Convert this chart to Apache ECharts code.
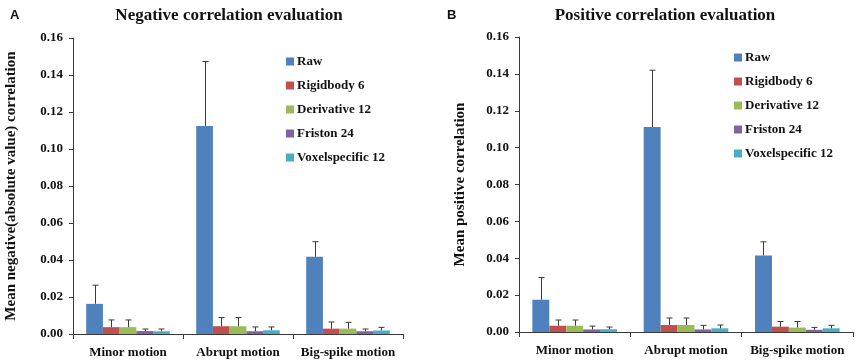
<!DOCTYPE html>
<html>
<head>
<meta charset="utf-8">
<script src="https://cdn.jsdelivr.net/npm/echarts@6/dist/echarts.min.js"></script>
<style>
  html, body { margin: 0; padding: 0; background: #fff; }
  #chart { width: 856px; height: 360px; }
</style>
</head>
<body>
<div id="chart"></div>
<script>
(function(){
  const categories = ['Minor motion', 'Abrupt motion', 'Big-spike motion'];
  const seriesNames = ['Raw', 'Rigidbody 6', 'Derivative 12', 'Friston 24', 'Voxelspecific 12'];
  const colors = ['#4F81BD', '#C0504D', '#9BBB59', '#8064A2', '#4BACC6'];
  const yTicks = [0, 0.02, 0.04, 0.06, 0.08, 0.10, 0.12, 0.14, 0.16];

  // panel A: negative correlation, mean and error (upper bar length)
  const negMean = [
    [0.0163, 0.1125, 0.0418],
    [0.0037, 0.0042, 0.0029],
    [0.0037, 0.0042, 0.0029],
    [0.0016, 0.0015, 0.0015],
    [0.0015, 0.0020, 0.0019]
  ];
  const negErr = [
    [0.0101, 0.0348, 0.0081],
    [0.0039, 0.0047, 0.0036],
    [0.0039, 0.0047, 0.0034],
    [0.0011, 0.0023, 0.0012],
    [0.0012, 0.0018, 0.0017]
  ];

  // panel B: positive correlation
  const posMean = [
    [0.0175, 0.1112, 0.0415],
    [0.0034, 0.0038, 0.0029],
    [0.0034, 0.0038, 0.0024],
    [0.0014, 0.0014, 0.0012],
    [0.0015, 0.0020, 0.0020]
  ];
  const posErr = [
    [0.0121, 0.0308, 0.0074],
    [0.0031, 0.0038, 0.0028],
    [0.0031, 0.0038, 0.0033],
    [0.0018, 0.0022, 0.0013],
    [0.0012, 0.0018, 0.0016]
  ];

  const SERIF = "'Liberation Serif', 'Times New Roman', serif";
  const AXIS_COLOR = '#3a3a3a';
  const CAT_GAP = 0.24;

  function errRender(idx){
    return function(params, api){
      const ci = api.value(0);
      const mean = api.value(1);
      const top = mean + api.value(2);
      const base = api.coord([ci, mean]);
      const tp = api.coord([ci, top]);
      const band = api.size([1, 0])[0];
      const group = band * (1 - CAT_GAP);
      const bw = group / seriesNames.length;
      const x = Math.round(base[0] - group / 2 + (idx + 0.5) * bw) + 0.5;
      const st = { stroke: AXIS_COLOR, lineWidth: 1 };
      return {
        type: 'group',
        children: [
          { type: 'line', shape: { x1: x, y1: base[1], x2: x, y2: tp[1] }, style: st },
          { type: 'line', shape: { x1: x - 3, y1: tp[1], x2: x + 3, y2: tp[1] }, style: st }
        ]
      };
    };
  }

  function xAxis(gi){
    return {
      type: 'category', gridIndex: gi, data: categories,
      axisLine: { lineStyle: { color: AXIS_COLOR, width: 1 } },
      axisTick: { show: true, length: 5, lineStyle: { color: AXIS_COLOR } },
      axisLabel: { color: '#111', fontFamily: SERIF, fontWeight: 'bold', fontSize: 13, margin: 12,
        interval: 0, hideOverlap: false }
    };
  }

  function yAxis(gi, name, gap){
    return {
      type: 'value', gridIndex: gi, min: 0, max: 0.16, interval: 0.02,
      name: name, nameLocation: 'middle', nameGap: gap,
      nameTextStyle: { color: '#111', fontFamily: SERIF, fontWeight: 'bold', fontSize: 15 },
      axisLine: { show: true, lineStyle: { color: AXIS_COLOR, width: 1 } },
      axisTick: { show: true, length: 4, lineStyle: { color: AXIS_COLOR } },
      splitLine: { show: false },
      axisLabel: {
        color: '#111', fontFamily: SERIF, fontWeight: 'bold', fontSize: 13, margin: 10,
        formatter: function(v){ return yTicks.indexOf(+v.toFixed(2)) >= 0 ? v.toFixed(2) : ''; }
      }
    };
  }

  function buildSeries(gi, means, errs){
    const out = [];
    seriesNames.forEach(function(name, i){
      out.push({
        name: name, type: 'bar', xAxisIndex: gi, yAxisIndex: gi,
        data: means[i], barGap: '0%', barCategoryGap: (CAT_GAP * 100) + '%',
        itemStyle: { color: colors[i] }
      });
    });
    seriesNames.forEach(function(name, i){
      out.push({
        name: name + ' error', type: 'custom', xAxisIndex: gi, yAxisIndex: gi,
        renderItem: errRender(i), z: 5,
        data: means[i].map(function(m, c){ return [c, m, errs[i][c]]; })
      });
    });
    return out;
  }

  function legend(left, top){
    return {
      data: seriesNames, orient: 'vertical', left: left, top: top,
      itemWidth: 8, itemHeight: 8, itemGap: 11,
      icon: 'rect',
      textStyle: { color: '#111', fontFamily: SERIF, fontWeight: 'bold', fontSize: 13, padding: [0, 0, 0, -2] }
    };
  }

  const chart = echarts.init(document.getElementById('chart'), null, { renderer: 'canvas' });
  chart.setOption({
    animation: false,
    color: colors,
    title: [
      { text: 'A', left: 5, top: 4, textStyle: { fontFamily: "'Liberation Sans', Arial, sans-serif", fontWeight: 'bold', fontSize: 13, color: '#111' } },
      { text: 'Negative correlation evaluation', left: 224, top: 2, textAlign: 'center',
        textStyle: { fontFamily: SERIF, fontWeight: 'bold', fontSize: 17, color: '#111' } },
      { text: 'B', left: 442, top: 4, textStyle: { fontFamily: "'Liberation Sans', Arial, sans-serif", fontWeight: 'bold', fontSize: 13, color: '#111' } },
      { text: 'Positive correlation evaluation', left: 660, top: 2, textAlign: 'center',
        textStyle: { fontFamily: SERIF, fontWeight: 'bold', fontSize: 17, color: '#111' } }
    ],
    legend: [legend(281, 50), legend(729, 46)],
    grid: [
      { left: 73, top: 38, width: 330, height: 296 },
      { left: 519, top: 37, width: 334, height: 295 }
    ],
    xAxis: [xAxis(0), xAxis(1)],
    yAxis: [
      yAxis(0, 'Mean negative(absolute value) correlation', 54),
      yAxis(1, 'Mean positive correlation', 51)
    ],
    series: buildSeries(0, negMean, negErr).concat(buildSeries(1, posMean, posErr))
  });
})();
</script>
</body>
</html>
